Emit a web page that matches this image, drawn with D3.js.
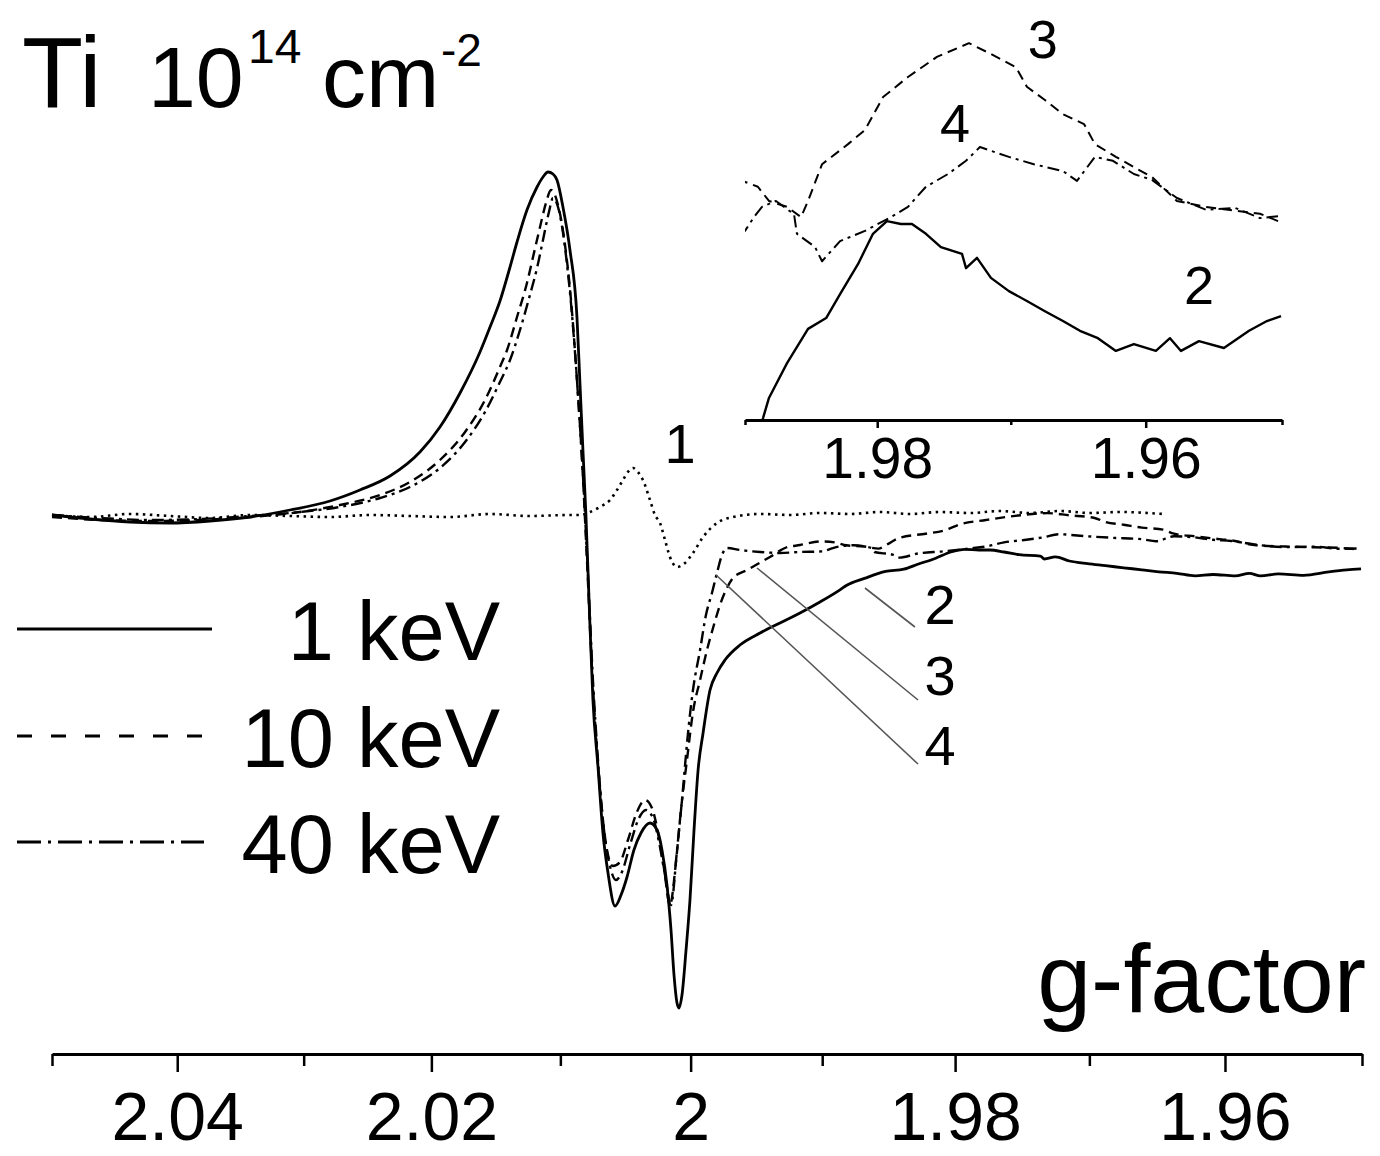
<!doctype html>
<html>
<head>
<meta charset="UTF-8">
<title>Ti 10^14 cm^-2</title>
<script src="https://d3js.org/d3.v7.min.js"></script>
<style>
  body { margin: 0; background: #fff; }
  svg text { font-family: "Liberation Sans", Arial, sans-serif; fill: #000; }
</style>
</head>
<body>
<svg id="chart" width="1380" height="1156"></svg>
<script>
// g-factor values and signal amplitude (arb. units)

// curve 2 : 1 keV (solid)
var g1keV = [2.05000,2.04696,2.04376,2.04058,2.03740,2.03423,2.03108,2.02793,2.02558,2.02323,2.02089,2.01933,2.01777,2.01622,2.01544,2.01467,2.01389,2.01335,2.01258,2.01180,2.01134,2.01095,2.01057,2.01026,2.00980,2.00926,2.00872,2.00849,2.00826,2.00803,2.00779,2.00749,2.00710,2.00672,2.00633,2.00579,2.00533,2.00487,2.00434,2.00380,2.00311,2.00257,2.00219,2.00181,2.00150,2.00127,2.00104,2.00089,2.00066,2.00035,2.00005,1.99974,1.99943,1.99905,1.99852,1.99799,1.99738,1.99624,1.99471,1.99320,1.99168,1.99017,
  1.98863,1.98818,1.98681,1.98522,1.98385,1.98280,1.98145,1.98032,1.97927,1.97822,1.97739,1.97634,1.97522,1.97364,1.97334,1.97252,1.97148,1.97014,1.96880,1.96746,1.96612,1.96486,1.96353,1.96220,1.96087,1.95925,1.95821,1.95740,1.95608,1.95425,1.95241,1.95110,1.95007];
var v1keV = [0,-4,-7,-8,-6,-2,5,14,25,39,63,88,122,163,188,214,248,273,305,328,338,343,341,335,308,265,198,132,65,0,-85,-185,-252,-318,-358,-391,-380,-362,-335,-318,-308,-315,-335,-370,-415,-460,-488,-493,-480,-435,-385,-315,-255,-218,-175,-158,-145,-130,-118,-108,-98,-87,
  -74.6,-70.5,-63.4,-56.4,-54.2,-49.3,-43.2,-37.0,-34.4,-35.0,-35.0,-37.0,-39.7,-41.1,-44.0,-41.9,-46.0,-48.7,-50.7,-52.8,-54.8,-56.8,-58.3,-60.9,-59.5,-60.9,-58.3,-60.9,-58.9,-60.3,-56.8,-54.8,-53.8];

// curve 3 : 10 keV (dashed)
var g10keV = [2.05000,2.04616,2.04217,2.03819,2.03423,2.03029,2.02715,2.02401,2.02167,2.01933,2.01738,2.01583,2.01467,2.01412,2.01335,2.01258,2.01211,2.01157,2.01111,2.01072,2.01018,2.00964,2.00918,2.00872,2.00833,2.00795,2.00756,2.00718,2.00672,2.00633,2.00595,2.00541,2.00480,2.00411,2.00349,2.00296,2.00250,2.00204,2.00158,2.00112,2.00074,2.00028,1.99982,1.99928,1.99875,1.99829,1.99776,1.99723,1.99677,1.99570,1.99396,1.99282,1.99168,
  1.99000,1.98902,1.98818,1.98681,1.98575,1.98522,1.98416,1.98220,1.98092,1.97956,1.97769,1.97552,1.97312,1.97148,1.96962,1.96880,1.96746,1.96612,1.96456,1.96375,1.96220,1.96087,1.95954,1.95770,1.95557,1.95344,1.95161,1.95029];
var v10keV = [-2,-5,-6,-5,-2,3,10,20,33,55,83,115,148,165,198,232,258,288,312,325,310,270,215,135,55,-45,-155,-235,-305,-340,-351,-347,-325,-297,-285,-293,-317,-353,-390,-347,-295,-245,-197,-165,-135,-113,-90,-73,-63,-55,-42,-33,-30,
  -26.4,-27.4,-30.3,-31.5,-33.6,-30.3,-22.8,-18.7,-15.8,-9.1,-5.0,-0.9,1.9,-0.3,-3.0,-7.0,-9.7,-12.6,-14.6,-18.7,-21.3,-23.4,-25.4,-30.3,-31.5,-32.3,-32.9,-34.4];

// curve 4 : 40 keV (dash-dot)
var g40keV = [2.05000,2.04616,2.04217,2.03819,2.03423,2.03029,2.02715,2.02401,2.02167,2.01933,2.01738,2.01583,2.01467,2.01389,2.01312,2.01235,2.01180,2.01134,2.01088,2.01057,2.01003,2.00957,2.00910,2.00864,2.00826,2.00787,2.00749,2.00710,2.00664,2.00618,2.00572,2.00526,2.00464,2.00395,2.00342,2.00288,2.00242,2.00196,2.00150,2.00104,2.00066,2.00020,1.99982,1.99928,1.99883,1.99837,1.99799,1.99761,1.99723,1.99624,1.99471,1.99320,1.99168,
  1.99000,1.98932,1.98871,1.98765,1.98628,1.98606,1.98469,1.98416,1.98280,1.98092,1.97897,1.97769,1.97634,1.97469,1.97334,1.97230,1.97014,1.96828,1.96612,1.96508,1.96375,1.96242,1.96087,1.95954,1.95770,1.95557,1.95344,1.95161,1.95029];
var v40keV = [0,-3,-5,-4,-1,3,8,17,28,47,73,103,133,155,185,220,247,275,303,317,300,260,200,120,40,-60,-165,-245,-315,-351,-365,-357,-330,-303,-295,-303,-327,-360,-390,-335,-285,-218,-175,-135,-100,-78,-58,-40,-33,-35,-37,-38,-37,
  -36.4,-33.6,-31.5,-30.3,-33.0,-37.0,-39.7,-42.6,-38.5,-36.4,-33.6,-31.5,-27.4,-24.8,-22.1,-19.3,-21.3,-22.8,-24.2,-26.2,-21.3,-22.1,-24.8,-26.0,-29.7,-32.1,-31.7,-33.8,-33.4];

// curve 1 (dotted)
var gRef = [2.05000,2.04696,2.04376,2.04058,2.03740,2.03423,2.03108,2.02793,2.02479,2.02167,2.01855,2.01544,2.01235,2.00926,2.00849,2.00772,2.00695,2.00618,2.00564,2.00518,2.00480,2.00441,2.00403,2.00365,2.00311,2.00273,2.00234,2.00196,2.00158,2.00104,2.00043,1.99982,1.99905,1.99799,1.99677,1.99471,1.99244,1.99017,1.98790,1.98564,1.98338,1.98113,1.97889,1.97664,1.97441,1.97218,1.96995,1.96773,1.96456];
var vRef = [0,-2,1,-1,-3,0,-1,-2,0,-1,-2,1,-1,0,0,3,8,15,25,35,43,47,43,35,15,0,-8,-25,-42,-52,-48,-38,-22,-8,-2,1,0,2,1,3,1,3,2,4,2,4,2,3,1];

var majorTicks = [2.04, 2.02, 2, 1.98, 1.96];
var minorTicks = [2.05, 2.03, 2.01, 1.99, 1.97, 1.95];
var insetMajor = [1.98, 1.96];
var insetMinor = [1.99, 1.97, 1.95];
var legendLabels = ["1 keV", "10 keV", "40 keV"];

var svg = d3.select("#chart");
svg.append("rect").attr("width", 1380).attr("height", 1156).attr("fill", "#fff");

// field is linear, so g runs as 1/B
var x = d3.scalePow().exponent(-1).domain([2.05, 1.95]).range([52, 1362]);
var y = d3.scaleLinear().domain([-500, 350]).range([1015, 165]);
var xIn = d3.scalePow().exponent(-1).domain([1.99, 1.95]).range([745, 1282]);
var yIn = d3.scaleLinear().domain([-75, 10]).range([420, 3.5]);

var series = [
  { g: gRef,   v: vRef,   dash: "2.5,4.5",     width: 2.6, inset: false },
  { g: g1keV,  v: v1keV,  dash: null,          width: 2.8, inset: true },
  { g: g10keV, v: v10keV, dash: "10,6",        width: 2.4, inset: true },
  { g: g40keV, v: v40keV, dash: "12,5,3,5",    width: 2.4, inset: true }
];

var mainLine = d3.line().x(function (d) { return x(d[0]); }).y(function (d) { return y(d[1]); }).curve(d3.curveMonotoneX);
var inLine = d3.line().x(function (d) { return xIn(d[0]); }).y(function (d) { return yIn(d[1]); });

series.forEach(function (s) {
  svg.append("path")
    .datum(d3.zip(s.g, s.v))
    .attr("d", mainLine)
    .attr("fill", "none")
    .attr("stroke", "#000")
    .attr("stroke-width", s.width)
    .attr("stroke-dasharray", s.dash)
    .attr("stroke-linejoin", "round");
});

// axis with long labelled ticks and short unlabelled ones
function drawAxis(scale, yPos, major, minor, bigTick, smallTick, fontSize, labelY) {
  var gMinor = svg.append("g").attr("transform", "translate(0," + yPos + ")")
    .call(d3.axisBottom(scale).tickValues(minor).tickSize(smallTick).tickSizeOuter(0).tickFormat(""));
  gMinor.select(".domain").attr("stroke-width", 3);
  gMinor.selectAll(".tick line").attr("stroke-width", 2.5);
  var gMajor = svg.append("g").attr("transform", "translate(0," + yPos + ")")
    .call(d3.axisBottom(scale).tickValues(major).tickSize(bigTick).tickSizeOuter(0)
      .tickFormat(function (d) { return String(d); }));
  gMajor.select(".domain").remove();
  gMajor.selectAll(".tick line").attr("stroke-width", 2.5);
  gMajor.selectAll(".tick text")
    .attr("y", labelY).attr("dy", 0)
    .style("font-size", fontSize + "px")
    .style("font-family", "'Liberation Sans', Arial, sans-serif");
}
drawAxis(x, 1054, majorTicks, minorTicks, 18, 12, 68, 86);

// inset
svg.append("clipPath").attr("id", "insetClip")
  .append("rect").attr("x", 745).attr("y", 0).attr("width", 537).attr("height", 420);
var inset = svg.append("g").attr("clip-path", "url(#insetClip)");
series.filter(function (s) { return s.inset; }).forEach(function (s) {
  inset.append("path")
    .datum(d3.zip(s.g, s.v))
    .attr("d", inLine)
    .attr("fill", "none")
    .attr("stroke", "#000")
    .attr("stroke-width", s.width - 0.4)
    .attr("stroke-dasharray", s.dash)
    .attr("stroke-linejoin", "round");
});
drawAxis(xIn, 420, insetMajor, insetMinor, 8, 5, 57, 58);

// leader lines to curve labels (g, value pairs)
var leaders = [
  [1.98677, -73, 1.98301, -112],
  [1.99494, -53, 1.98278, -185],
  [1.99806, -60, 1.98278, -249]
];
svg.selectAll("line.leader").data(leaders).enter().append("line")
  .attr("class", "leader")
  .attr("x1", function (d) { return x(d[0]); }).attr("y1", function (d) { return y(d[1]); })
  .attr("x2", function (d) { return x(d[2]); }).attr("y2", function (d) { return y(d[3]); })
  .attr("stroke", "#555").attr("stroke-width", 1.6);

var mainLabels = [["1", 2.00081, 52], ["2", 1.98113, -109], ["3", 1.98113, -180], ["4", 1.98113, -250]];
svg.selectAll("text.clab").data(mainLabels).enter().append("text")
  .attr("class", "clab")
  .attr("x", function (d) { return x(d[1]); }).attr("y", function (d) { return y(d[2]); })
  .attr("text-anchor", "middle").style("font-size", "56px")
  .text(function (d) { return d[0]; });

var insetLabels = [["3", 1.96761, -1.1], ["4", 1.97416, -18.3], ["2", 1.95608, -51.3]];
svg.selectAll("text.ilab").data(insetLabels).enter().append("text")
  .attr("class", "ilab")
  .attr("x", function (d) { return xIn(d[1]); }).attr("y", function (d) { return yIn(d[2]); })
  .attr("text-anchor", "middle").style("font-size", "54px")
  .text(function (d) { return d[0]; });

// legend
var legDash = [null, "15,19", "24,7,3,7"];
var legY = [629, 736, 842];
legendLabels.forEach(function (lab, i) {
  svg.append("line").attr("x1", 17).attr("x2", i === 0 ? 212 : 204)
    .attr("y1", legY[i]).attr("y2", legY[i])
    .attr("stroke", "#000").attr("stroke-width", 3)
    .attr("stroke-dasharray", legDash[i]);
  svg.append("text").attr("x", 500).attr("y", legY[i] + 31)
    .attr("text-anchor", "end").style("font-size", "83px").text(lab);
});

// title
var title = svg.append("text").attr("x", 22).attr("y", 107);
title.append("tspan").style("font-size", "100px").text("Ti");
title.append("tspan").attr("x", 148).style("font-size", "86px").text("10");
title.append("tspan").attr("x", 248).attr("y", 63).style("font-size", "48px").text("14");
title.append("tspan").attr("x", 322).attr("y", 107).style("font-size", "88px").text("cm");
title.append("tspan").attr("x", 441).attr("y", 66).style("font-size", "46px").text("-2");

svg.append("text").attr("x", 1366).attr("y", 1012)
  .attr("text-anchor", "end").style("font-size", "97px").text("g-factor");
</script>
</body>
</html>
